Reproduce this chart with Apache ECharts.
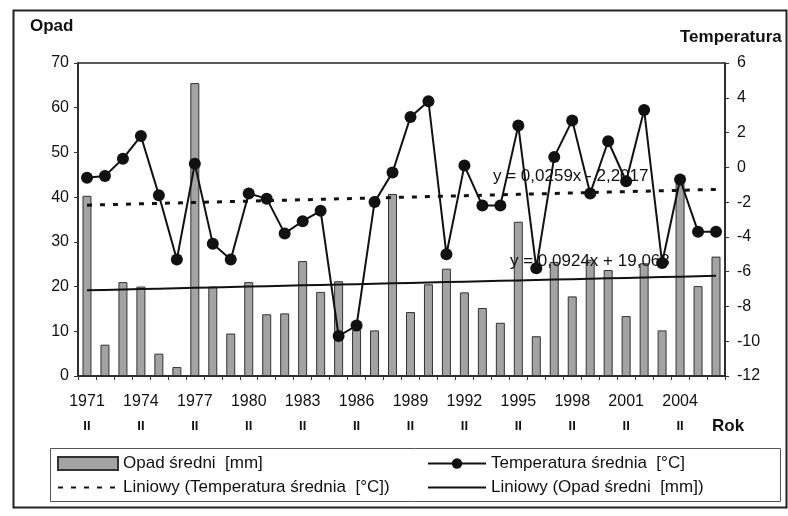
<!DOCTYPE html>
<html>
<head>
<meta charset="utf-8">
<script src="https://cdn.jsdelivr.net/npm/echarts@6/dist/echarts.min.js"></script>
<style>
html,body{margin:0;padding:0;background:#fff;}
#chart{width:788px;height:516px;}
</style>
</head>
<body>
<div id="chart"></div>
<script>
// ---- data ----
const years = ['1971','1972','1973','1974','1975','1976','1977','1978','1979','1980',
  '1981','1982','1983','1984','1985','1986','1987','1988','1989','1990',
  '1991','1992','1993','1994','1995','1996','1997','1998','1999','2000',
  '2001','2002','2003','2004','2005','2006'];
const opad = [40.3, 7, 21, 20, 5, 2, 65.5, 20, 9.5, 21,
  13.8, 14, 25.7, 18.8, 21.2, 10.3, 10.2, 40.7, 14.3, 20.5,
  24, 18.7, 15.2, 11.9, 34.5, 8.9, 25.5, 17.8, 26, 23.7,
  13.4, 25.2, 10.2, 43, 20.1, 26.7];
const temperatura = [-0.6, -0.5, 0.5, 1.8, -1.6, -5.3, 0.2, -4.4, -5.3, -1.5,
  -1.8, -3.8, -3.1, -2.5, -9.7, -9.1, -2.0, -0.3, 2.9, 3.8,
  -5.0, 0.1, -2.2, -2.2, 2.4, -5.8, 0.6, 2.7, -1.5, 1.5,
  -0.8, 3.3, -5.5, -0.7, -3.7, -3.7];
// trend line equations as printed on the chart (y = a*x + b, x = 1..n)
const tempTrendA = 0.0259, tempTrendB = -2.2017;
const opadTrendA = 0.0924, opadTrendB = 19.068;
const tempTrendLabel = 'y = 0,0259x - 2,2017';
const opadTrendLabel = 'y = 0,0924x + 19,068';
const leftTicks = {min: 0, max: 70, interval: 10};
const rightTicks = {min: -12, max: 6, interval: 2};

const tempTrend = years.map((_, i) => +(tempTrendA * (i + 1) + tempTrendB).toFixed(4));
const opadTrend = years.map((_, i) => +(opadTrendA * (i + 1) + opadTrendB).toFixed(4));

const FONT = '"Liberation Sans", Arial, sans-serif';
const chart = echarts.init(document.getElementById('chart'), null, {renderer: 'canvas'});

const names = {
  opad: 'Opad średni  [mm]',
  temp: 'Temperatura średnia  [°C]',
  tempLin: 'Liniowy (Temperatura średnia  [°C])',
  opadLin: 'Liniowy (Opad średni  [mm])'
};

chart.setOption({
  backgroundColor: '#fff',
  animation: false,
  textStyle: {fontFamily: FONT},
  grid: {left: 78, right: 63, top: 63, bottom: 140, show: true, borderColor: '#222', borderWidth: 1.5, backgroundColor: '#fff'},
  legend: [{
    orient: 'vertical', left: 52, top: 450, itemWidth: 60, itemHeight: 13, itemGap: 7,
    textStyle: {fontSize: 17, color: '#111', fontFamily: FONT},
    data: [{name: names.opad, icon: 'rect'}, {name: names.tempLin}]
  }, {
    orient: 'vertical', left: 422, top: 450, itemWidth: 58, itemHeight: 13, itemGap: 7,
    textStyle: {fontSize: 17, color: '#111', fontFamily: FONT},
    data: [{name: names.temp}, {name: names.opadLin}]
  }],
  xAxis: {
    type: 'category', data: years, boundaryGap: true,
    axisLine: {lineStyle: {color: '#222', width: 1.5}},
    axisTick: {show: true, interval: 0, length: 4, lineStyle: {color: '#333'}},
    axisLabel: {
      interval: 2, margin: 13,
      formatter: v => '{y|' + v + '}\n{s|II}',
      rich: {
        y: {fontSize: 16, color: '#111', lineHeight: 25, fontFamily: FONT},
        s: {fontSize: 13, fontWeight: 'bold', color: '#111', lineHeight: 25, fontFamily: FONT}
      }
    }
  },
  yAxis: [{
    type: 'value', min: leftTicks.min, max: leftTicks.max, interval: leftTicks.interval,
    axisLine: {show: true, lineStyle: {color: '#222', width: 1.5}},
    axisTick: {show: true, length: 4, lineStyle: {color: '#333'}},
    splitLine: {show: false},
    axisLabel: {fontSize: 16, color: '#111', margin: 9, fontFamily: FONT}
  }, {
    type: 'value', min: rightTicks.min, max: rightTicks.max, interval: rightTicks.interval,
    axisLine: {show: true, lineStyle: {color: '#222', width: 1.5}},
    axisTick: {show: true, length: 4, lineStyle: {color: '#333'}},
    splitLine: {show: false},
    axisLabel: {fontSize: 16, color: '#111', margin: 12, fontFamily: FONT}
  }],
  series: [{
    name: names.opad, type: 'bar', yAxisIndex: 0, data: opad, barWidth: 9, z: 1,
    itemStyle: {color: '#a3a3a3', borderColor: '#333', borderWidth: 1}
  }, {
    name: names.opadLin, type: 'line', yAxisIndex: 0, data: opadTrend, symbol: 'none', z: 3,
    itemStyle: {color: 'rgba(0,0,0,0)'},
    lineStyle: {color: '#111', width: 2}
  }, {
    name: names.tempLin, type: 'line', yAxisIndex: 1, data: tempTrend, symbol: 'none', z: 3,
    itemStyle: {color: 'rgba(0,0,0,0)'},
    lineStyle: {color: '#111', width: 3, type: [5, 8]}
  }, {
    name: names.temp, type: 'line', yAxisIndex: 1, data: temperatura, z: 4,
    symbol: 'circle', symbolSize: 12, showSymbol: true, showAllSymbol: true,
    itemStyle: {color: '#111'}, lineStyle: {color: '#111', width: 2}
  }],
  graphic: [
    {type: 'rect', left: 11, top: 8, z: -10, silent: true,
     shape: {width: 773, height: 497}, style: {fill: null, stroke: '#222', lineWidth: 2}},
    {type: 'rect', left: 48, top: 446, z: -10, silent: true,
     shape: {width: 730, height: 53}, style: {fill: null, stroke: '#555', lineWidth: 1}},
    {type: 'text', left: 30, top: 18, style: {text: 'Opad', font: 'bold 17px ' + FONT, fill: '#111'}},
    {type: 'text', left: 680, top: 29, style: {text: 'Temperatura', font: 'bold 17px ' + FONT, fill: '#111'}},
    {type: 'text', left: 712, top: 418, style: {text: 'Rok', font: 'bold 17px ' + FONT, fill: '#111'}},
    {type: 'text', left: 493, top: 168, z: 10, style: {text: tempTrendLabel, font: '17px ' + FONT, fill: '#111'}},
    {type: 'text', left: 510, top: 253, z: 10, style: {text: opadTrendLabel, font: '17px ' + FONT, fill: '#111'}}
  ]
});
</script>
</body>
</html>
